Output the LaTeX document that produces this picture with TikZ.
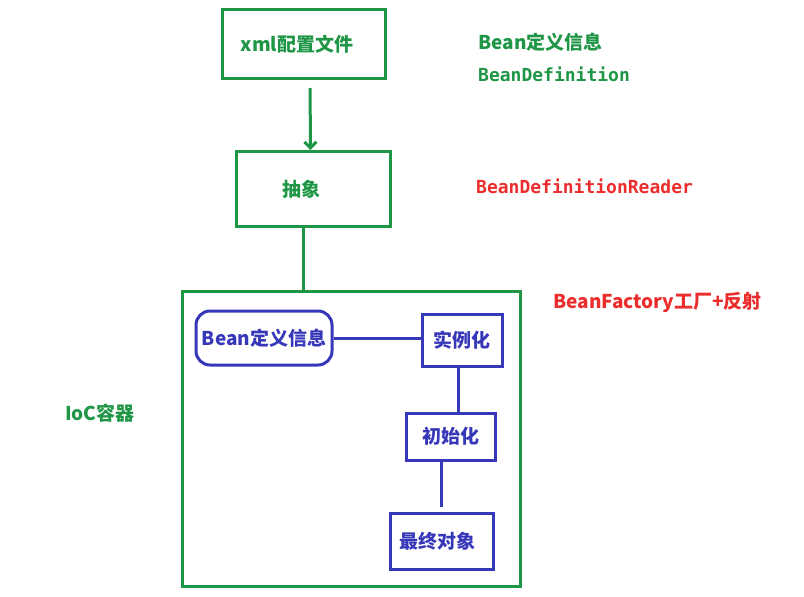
\documentclass[tikz,border=0pt]{standalone}
\usepackage{fontspec}
\setmainfont{Noto Sans CJK SC}
\newfontfamily\codefont{DejaVu Sans Mono}
\usetikzlibrary{arrows.meta}

\definecolor{springgreen}{RGB}{30,150,70}
\definecolor{springblue}{RGB}{55,55,185}
\definecolor{springred}{RGB}{235,45,45}

\begin{document}
\begin{tikzpicture}[x=1pt, y=-1pt,
        greenbox/.style={draw=springgreen, line width=3pt, text=springgreen, font=\fontsize{19}{22}\selectfont\bfseries},
        bluebox/.style={draw=springblue, line width=3pt, text=springblue, font=\fontsize{19}{22}\selectfont\bfseries},
        note/.style={anchor=west, inner sep=0pt, font=\fontsize{19}{22}\selectfont\bfseries}]
            \useasboundingbox (0,0) rectangle (804,597);
            % outer flow
            \node [greenbox, minimum width=163pt, minimum height=69pt] (xml) at (304,44) {xml配置文件\kern14pt};
            \node [greenbox, minimum width=154pt, minimum height=75pt] (abs) at (313.5,189) {抽象\kern24pt};
            \node [draw=springgreen, line width=3pt, minimum width=338pt, minimum height=295pt] (ioc) at (351.5,439) {};
            % inside the container
            \node [bluebox, rounded corners=14pt, minimum width=136pt, minimum height=54pt] (beaninfo) at (264,338) {Bean定义信息};
            \node [bluebox, minimum width=80pt, minimum height=52pt] (inst) at (462,340) {实例化};
            \node [bluebox, minimum width=89pt, minimum height=47pt] (init) at (450.5,436.5) {初始化};
            \node [bluebox, minimum width=103pt, minimum height=56pt] (final) at (441.5,541) {最终对象\kern8pt};
            % side notes
            \node [note, text=springgreen] (defcn) at (478,42) {Bean定义信息};
            \node [note, text=springgreen, font=\codefont\fontsize{18}{20}\selectfont\bfseries] (defen) at (478,74) {BeanDefinition};
            \node [note, text=springred, font=\codefont\fontsize{18}{20}\selectfont\bfseries] (reader) at (476,186) {BeanDefinitionReader};
            \node [note, text=springred] (factory) at (553,302) {BeanFactory工厂+反射};
            \node [note, text=springgreen] (ioclabel) at (65,413) {IoC容器};
            % connectors
            \draw [springgreen, line width=3pt, -{Straight Barb[length=6pt]}, shorten <=8pt] ([xshift=6pt]xml.south) -- ([xshift=-3pt]abs.north);
            \draw [springgreen, line width=3pt] ([xshift=-10pt]abs.south) -- ([xshift=-10pt]abs.south |- ioc.north);
            \draw [springblue, line width=3pt] (beaninfo.east) -- (beaninfo.east -| inst.west);
            \draw [springblue, line width=3pt] ([xshift=-4pt]inst.south) -- ([xshift=-4pt]inst.south |- init.north);
            \draw [springblue, line width=3pt, shorten >=5pt] (final.north |- init.south) -- (final.north);
        \end{tikzpicture}
\end{document}
